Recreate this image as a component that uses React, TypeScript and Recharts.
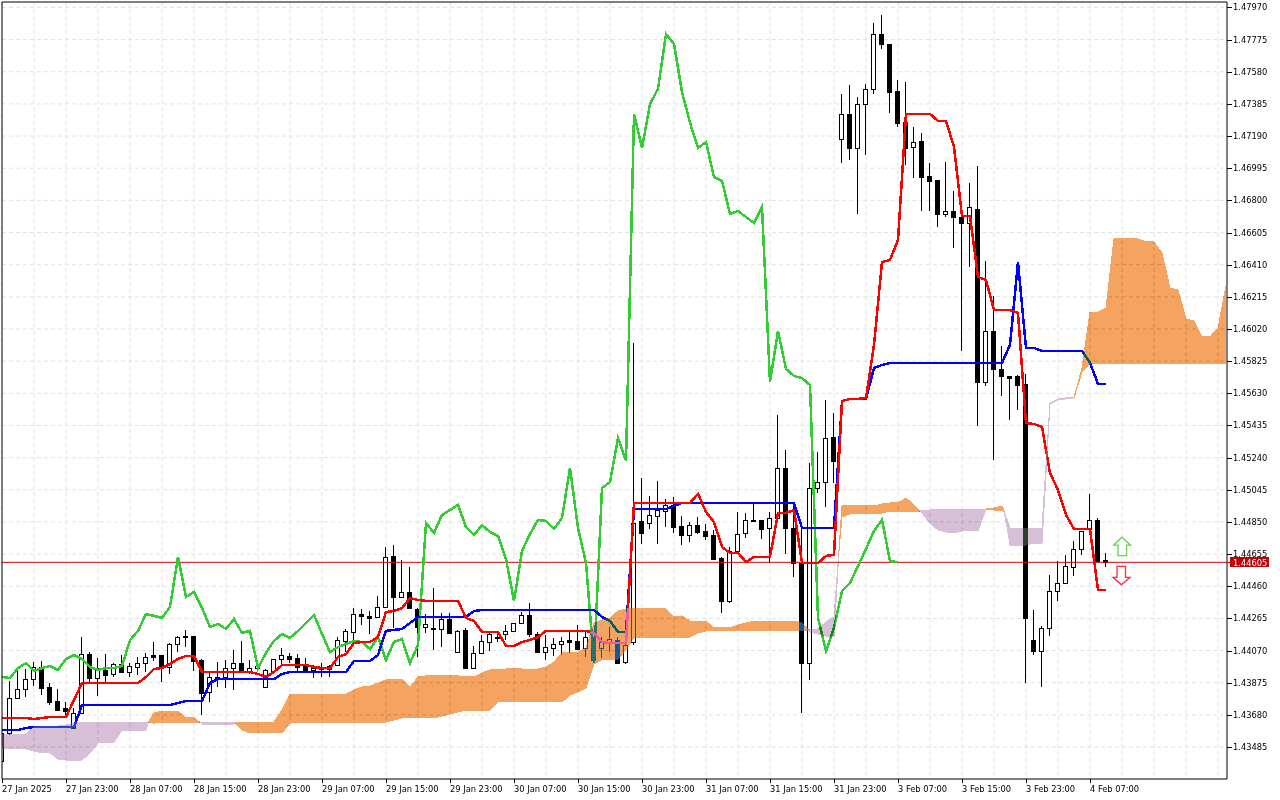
import React from "react";
import { ComposedChart, Bar, Line, Area, XAxis, YAxis, CartesianGrid, ReferenceLine, ReferenceDot } from "recharts";

// All prices are in points (1 point = 0.00001).
const highs = [
143570,143885,143946,143958,144000,144007,143873,143837,143758,143721,
144152,144061,144025,144049,143994,144043,143994,144031,144055,144122,
144043,144116,144158,144195,144158,144019,143934,144000,144013,144073,
144128,144013,144013,143958,144019,144085,144055,144049,144025,143982,
143994,143982,144152,144201,144328,144322,144310,144401,144698,144710,
144619,144577,144328,144292,144450,144298,144298,144195,144207,144098,
144165,144183,144183,144225,144237,144304,144359,144183,144165,144146,
144152,144183,144225,144183,144152,144152,144213,144152,144134,145935,
145116,145008,145098,144989,145002,144886,144849,144880,144837,144801,
144638,144698,144910,144904,144965,144862,144910,145498,145286,144953,
144813,145207,145274,145590,145510,147445,147500,147427,147506,147876,
147925,147749,147530,147518,147245,147209,147027,146924,147033,146857,
146760,146906,147009,146433,146220,145917,145735,145741,145747,144316,
144219,144528,144613,144650,144734,144795,145020,144874,144662];
const lows = [
143400,143557,143782,143788,143855,143800,143740,143703,143673,143600,
143685,143879,143794,143879,143910,143934,143910,143922,143940,144007,
143879,143928,144061,144091,143946,143679,143758,143849,143843,143831,
143934,143928,143952,143849,143940,143982,143994,143946,143946,143903,
143910,143910,143976,144061,144122,144225,144171,144268,144328,144207,
144395,144328,144031,144177,144073,144091,144171,144055,143964,143958,
144049,144067,144122,144134,144183,144231,144152,144055,144013,144037,
144043,144055,144079,144031,143994,144025,144061,143988,143988,144104,
144716,144807,144716,144819,144783,144710,144728,144777,144740,144619,
144298,144359,144674,144752,144849,144746,144601,144862,144656,144516,
143691,143891,145026,144940,145086,147027,147045,146718,147075,147445,
147718,147330,147245,147015,146936,146736,146736,146639,146699,146511,
145887,146396,145432,145674,145226,145614,145468,145529,143873,144043,
143849,144158,144371,144474,144522,144650,144801,144613,144577];
const opens = [
143400,143570,143782,143837,143897,143970,143849,143764,143721,143600,
143691,144049,143903,143952,143928,143988,143940,143970,143994,144043,
144043,143970,144110,144158,144158,144013,143819,143910,143910,143964,
143994,143940,143964,143849,143946,144019,144037,144025,143976,143952,
143958,143958,143982,144128,144183,144292,144280,144274,144334,144644,
144395,144425,144322,144213,144207,144201,144262,144061,144195,143964,
144055,144122,144152,144171,144189,144237,144286,144171,144061,144085,
144110,144134,144128,144085,144134,144085,144122,144134,144000,144122,
144856,144843,144886,144916,144953,144825,144771,144831,144795,144771,
144632,144371,144674,144783,144862,144862,144813,144874,145177,144813,
144601,143994,145056,145092,145365,147172,147324,147118,147385,147476,
147809,147749,147464,147276,147124,147160,146948,146924,146718,146736,
146699,146663,146748,145699,146008,145778,145735,145735,145687,144134,
144067,144207,144431,144480,144577,144686,144807,144862,144619];
const closes = [
143570,143782,143837,143897,143970,143843,143758,143709,143703,143691,
144049,143903,143964,143922,143988,143940,143976,143994,144031,144031,
143964,144110,144152,144152,144007,143812,143910,143903,143964,143994,
143946,143964,143976,143952,144019,144043,144019,143970,143952,143964,
143964,143976,144134,144189,144292,144280,144268,144334,144638,144395,
144425,144328,144213,144231,144201,144262,144177,144189,143964,144055,
144128,144171,144146,144189,144237,144286,144171,144061,144091,144110,
144128,144122,144079,144152,144013,144122,144140,143994,144104,144843,
144783,144892,144922,144953,144819,144771,144831,144789,144765,144625,
144371,144674,144777,144862,144856,144807,144874,145177,144813,144601,
143994,145056,145092,145359,145220,147324,147118,147385,147476,147809,
147749,147458,147270,147118,147154,146942,146918,146718,146736,146699,
146663,146760,145699,146008,145778,145735,145723,145680,144268,144067,
144207,144431,144480,144583,144686,144795,144862,144613,144605];
const tenkan = [
143661,143661,143661,143661,143655,143661,143667,143667,143667,143770,
143873,143873,143873,143873,143873,143873,143873,143873,143910,143958,
143964,143988,144019,144037,144037,143940,143940,143940,143940,143940,
143940,143940,143928,143910,143940,143982,143982,143982,143982,143970,
143964,143964,144031,144049,144116,144122,144122,144152,144304,144310,
144328,144389,144377,144371,144371,144371,144371,144371,144268,144249,
144183,144183,144183,144098,144098,144122,144134,144152,144189,144189,
144189,144189,144189,144189,144177,144122,144116,144116,144116,144965,
144965,144965,144965,144965,144965,144965,144965,145020,144910,144849,
144698,144662,144662,144607,144638,144638,144638,144904,144904,144922,
144601,144601,144601,144644,144650,145583,145596,145596,145602,145923,
146426,146439,146560,147324,147324,147324,147324,147282,147282,147124,
146705,146705,146336,146317,146135,146135,146135,146117,145450,145444,
145426,145147,145044,144892,144807,144807,144807,144437,144437];
const kijun = [
143588,143588,143588,143600,143606,143606,143606,143606,143606,143606,
143740,143740,143740,143740,143740,143740,143740,143740,143740,143740,
143740,143740,143752,143764,143764,143764,143873,143897,143897,143897,
143897,143897,143897,143897,143897,143928,143940,143940,143940,143940,
143940,143940,143940,143940,144007,144007,144007,144043,144189,144195,
144201,144237,144274,144274,144274,144274,144274,144274,144274,144310,
144316,144316,144316,144316,144316,144316,144316,144316,144316,144316,
144316,144316,144316,144316,144316,144274,144249,144183,144183,144928,
144928,144928,144928,144928,144947,144965,144965,144965,144965,144965,
144965,144965,144965,144965,144965,144965,144965,144965,144965,144965,
144813,144813,144813,144813,144813,145583,145596,145596,145596,145784,
145802,145814,145814,145814,145814,145814,145814,145814,145814,145814,
145814,145814,145814,145814,145814,145814,145923,146426,145905,145905,
145887,145887,145887,145887,145887,145887,145814,145687,145687];
const spanA = [
143473,143473,143473,143473,143461,143449,143449,143412,143406,143406,
143406,143449,143509,143515,143515,143588,143588,143588,143588,143691,
143703,143703,143703,143661,143661,143624,143624,143624,143624,143624,
143636,143636,143636,143636,143636,143709,143806,143806,143806,143806,
143806,143806,143806,143806,143831,143849,143855,143873,143891,143897,
143897,143849,143910,143916,143916,143916,143916,143916,143910,143910,
143934,143952,143958,143958,143964,143958,143958,143958,143970,144000,
144055,144061,144061,144085,144237,144255,144268,144310,144322,144322,
144322,144322,144322,144322,144274,144280,144249,144249,144249,144207,
144207,144207,144225,144237,144249,144249,144249,144249,144249,144249,
144237,144183,144171,144158,144152,144947,144947,144947,144947,144947,
144959,144965,144965,144995,144953,144904,144843,144801,144789,144783,
144795,144795,144795,144928,144934,144947,144710,144704,144710,144722,
144722,145565,145590,145596,145602,145784,146123,146123,146147,146566,
146566,146566,146566,146548,146548,146481,146269,146257,146081,146069,
145972,145972,146026,146281];
const spanB = [
143563,143563,143563,143563,143606,143612,143612,143612,143618,143630,
143636,143636,143636,143636,143636,143636,143636,143636,143636,143630,
143636,143636,143636,143636,143636,143636,143636,143636,143636,143636,
143588,143570,143570,143570,143570,143570,143630,143636,143636,143636,
143636,143636,143636,143636,143636,143636,143636,143636,143636,143649,
143661,143661,143661,143661,143661,143673,143685,143697,143709,143709,
143709,143709,143758,143758,143758,143758,143758,143758,143758,143758,
143758,143800,143819,143843,143988,144013,144013,144019,144073,144152,
144152,144152,144152,144152,144152,144152,144152,144177,144189,144189,
144189,144189,144189,144189,144189,144189,144189,144189,144189,144189,
144189,144195,144201,144243,144274,144880,144898,144904,144904,144904,
144904,144916,144916,144916,144916,144922,144922,144928,144928,144928,
144928,144928,144928,144928,144922,144922,144813,144813,144813,144813,
144813,145571,145596,145602,145602,145759,145808,145808,145808,145808,
145808,145808,145808,145808,145808,145808,145808,145808,145808,145808,
145808,145808,145808,145808];
// Where the two cloud spans cross between two bars.
const crossBars = [18.3, 24.7, 29.2, 100.8, 104.6, 114.7, 125.3];
const crossValues = [143636, 143636, 143630, 144195, 144662, 144916, 144910];

const currentPrice = 144605;
const upArrowPrice = 144700;
const downArrowPrice = 144526;
const arrowBar = 140;
const lastBar = 153.125;

const timeLabels = [
  "27 Jan 2025", "27 Jan 23:00", "28 Jan 07:00", "28 Jan 15:00", "28 Jan 23:00", "29 Jan 07:00",
  "29 Jan 15:00", "29 Jan 23:00", "30 Jan 07:00", "30 Jan 15:00", "30 Jan 23:00", "31 Jan 07:00",
  "31 Jan 15:00", "31 Jan 23:00", "3 Feb 07:00", "3 Feb 15:00", "3 Feb 23:00", "4 Feb 07:00",
];
const priceTicks = [
  143485, 143680, 143875, 144070, 144265, 144460, 144655, 144850, 145045, 145240, 145435, 145630,
  145825, 146020, 146215, 146410, 146605, 146800, 146995, 147190, 147385, 147580, 147775, 147970,
];

const barTicks: number[] = [];
for (let i = 0; i <= 152; i += 4) barTicks.push(i);

type Row = Record<string, any>;
const rows: Row[] = spanA.map((a, i) => {
  const b = spanB[i];
  const row: Row = {
    x: i,
    orange: a >= b ? [b, a] : null,
    purple: a <= b ? [a, b] : null,
  };
  if (i < opens.length) {
    row.range = [lows[i], highs[i]];
    row.open = opens[i];
    row.close = closes[i];
    row.high = highs[i];
    row.low = lows[i];
    row.tenkan = tenkan[i];
    row.kijun = kijun[i];
  }
  if (i + 26 < closes.length) row.chikou = closes[i + 26];
  return row;
});
crossBars.forEach((x, k) => {
  const v = crossValues[k];
  rows.push({ x, orange: [v, v], purple: [v, v] });
});
rows.sort((p, q) => p.x - q.x);

const FONT = "'DejaVu Sans', sans-serif";

function Candle(props: any) {
  const { x, y, width, height, payload } = props;
  if (!payload || payload.open == null) return null;
  const { open, close, high, low } = payload;
  const cx = Math.floor(x + width / 2);
  const k = height / (high - low);
  const top = Math.round(y + (high - Math.max(open, close)) * k);
  const bottom = Math.round(y + (high - Math.min(open, close)) * k);
  const wickTop = Math.round(y);
  const wickBottom = Math.round(y + height);
  const bull = close > open;
  return (
    <g shapeRendering="crispEdges">
      <rect x={cx} y={wickTop} width={1} height={Math.max(1, wickBottom - wickTop)} fill="#000" />
      {bull ? (
        <rect x={cx - 2 + 0.5} y={top + 0.5} width={4} height={Math.max(1, bottom - top)} fill="#fff" stroke="#000" strokeWidth={1} />
      ) : (
        <rect x={cx - 2} y={top} width={5} height={Math.max(2, bottom - top + 1)} fill="#000" />
      )}
    </g>
  );
}

function TimeTick(props: any) {
  const { x, payload } = props;
  const bar = payload.value;
  const label = timeLabels[bar / 8];
  if (!label) return null;
  const axisY = 779;
  return (
    <g>
      <rect x={Math.floor(x)} y={axisY} width={1} height={4} fill="#000" shapeRendering="crispEdges" />
      <text x={x} y={792} fontSize={8.3} fontFamily={FONT} fill="#000" textAnchor="start">{label}</text>
    </g>
  );
}

function PriceTick(props: any) {
  const { y, payload } = props;
  const v = payload.value;
  const text = (v / 100000).toFixed(5);
  const axisX = 1227;
  if (v === currentPrice) {
    return (
      <g>
        <rect x={axisX} y={Math.round(y)} width={3} height={1} fill="#d80000" shapeRendering="crispEdges" />
        <rect x={axisX + 3} y={Math.round(y) - 5} width={39} height={10} fill="#c40000" shapeRendering="crispEdges" />
        <text x={1233} y={y + 3.5} fontSize={8.3} fontFamily={FONT} fill="#fff" textAnchor="start">{text}</text>
      </g>
    );
  }
  return (
    <g>
      <rect x={axisX} y={Math.round(y)} width={5} height={1} fill="#000" shapeRendering="crispEdges" />
      <text x={1233} y={y + 3} fontSize={8.3} fontFamily={FONT} fill="#000" textAnchor="start">{text}</text>
    </g>
  );
}

function UpArrow(props: any) {
  const cx = props.cx;
  const cy = props.cy;
  const pts = [[0, -9.5], [8.5, -1.5], [4.5, -1.5], [4.5, 9], [-4, 9], [-4, -1.5], [-8.5, -1.5]];
  return <polygon points={pts.map((p) => `${cx + p[0]},${cy + p[1]}`).join(" ")} fill="#fff" stroke="#62d84a" strokeWidth={1.3} />;
}

function DownArrow(props: any) {
  const cx = props.cx;
  const cy = props.cy;
  const pts = [[0, 9.5], [8.5, 2], [4, 2], [4, -9], [-4.5, -9], [-4.5, 2], [-8.5, 2]];
  return <polygon points={pts.map((p) => `${cx - 0.5 + p[0]},${cy + p[1]}`).join(" ")} fill="#fff" stroke="#ff2a4a" strokeWidth={1.3} />;
}

export default function App() {
  return (
    <div style={{ position: "absolute", left: 0, top: 0, width: 1280, height: 800, background: "#fff" }}>
      <style>{`.xor-cloud { mix-blend-mode: difference; } .recharts-line-curve { shape-rendering: crispEdges; } .xor-cloud path { shape-rendering: crispEdges; }`}</style>
      <ComposedChart
        width={1280}
        height={800}
        data={rows}
        margin={{ top: 2, right: 0, bottom: 0, left: 2 }}
        barCategoryGap={0}
      >
        <CartesianGrid
          stroke="#e2e2e2"
          strokeDasharray="4 3"
          fill="#fff"
          horizontalValues={priceTicks}
          verticalValues={barTicks}
        />
        <XAxis
          dataKey="x"
          type="number"
          domain={[0, lastBar]}
          allowDataOverflow
          ticks={barTicks}
          interval={0}
          height={21}
          tick={<TimeTick />}
          tickLine={false}
          axisLine={{ stroke: "#000" }}
        />
        <YAxis
          orientation="right"
          type="number"
          domain={[143291, 148003]}
          allowDataOverflow
          ticks={[...priceTicks, currentPrice]}
          interval={0}
          width={53}
          tick={<PriceTick />}
          tickLine={false}
          axisLine={{ stroke: "#000" }}
        />
        <ReferenceLine y={currentPrice} stroke="#e00000" strokeWidth={1} />
        <Bar dataKey="range" barSize={7} shape={<Candle />} isAnimationActive={false} />
        <Line dataKey="chikou" stroke="#32cd32" strokeWidth={2.5} dot={false} connectNulls isAnimationActive={false} />
        <Line dataKey="kijun" stroke="#0000ff" strokeWidth={2.5} dot={false} connectNulls isAnimationActive={false} />
        <Line dataKey="tenkan" stroke="#ff0000" strokeWidth={2.5} dot={false} connectNulls isAnimationActive={false} />
        <Area dataKey="orange" className="xor-cloud" fill="#0b5b9f" fillOpacity={1} stroke="#0b5b9f" strokeWidth={1} zIndex={900} isAnimationActive={false} />
        <Area dataKey="purple" className="xor-cloud" fill="#274027" fillOpacity={1} stroke="#274027" strokeWidth={1} zIndex={900} isAnimationActive={false} />
        <ReferenceLine y={148003} stroke="#000" />
        <ReferenceLine x={0} stroke="#000" />
        <ReferenceDot x={arrowBar} y={upArrowPrice} shape={<UpArrow />} />
        <ReferenceDot x={arrowBar} y={downArrowPrice} shape={<DownArrow />} />
      </ComposedChart>
    </div>
  );
}
